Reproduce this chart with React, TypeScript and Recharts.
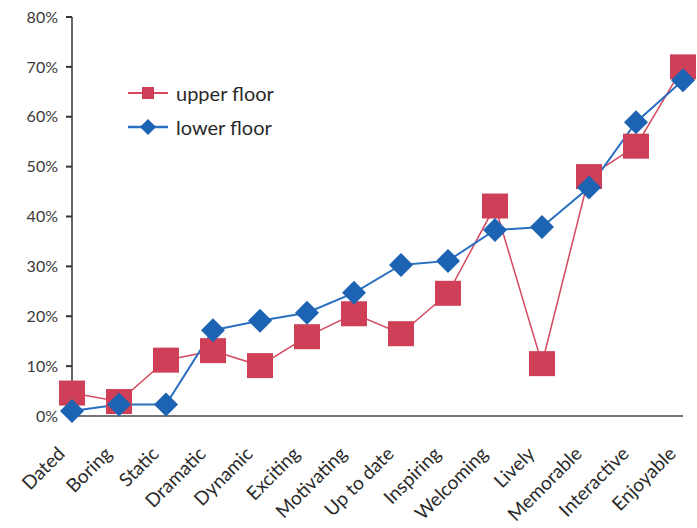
import React from 'react';
import { LineChart, Line, XAxis, YAxis, Legend } from 'recharts';

// Share of respondents choosing each word, per floor (%)
const categories = ['Dated', 'Boring', 'Static', 'Dramatic', 'Dynamic', 'Exciting', 'Motivating', 'Up to date', 'Inspiring', 'Welcoming', 'Lively', 'Memorable', 'Interactive', 'Enjoyable'];
const upperFloor = [4.6, 2.9, 11.2, 13.1, 10.1, 15.9, 20.5, 16.5, 24.6, 42.1, 10.5, 48, 54.1, 70];
const lowerFloor = [1, 2.3, 2.3, 17.2, 19.1, 20.7, 24.7, 30.3, 31.1, 37.3, 37.9, 45.8, 58.9, 67.3];
const yTicks = [0, 10, 20, 30, 40, 50, 60, 70, 80];

const data = categories.map((name, i) => ({ name, upper: upperFloor[i], lower: lowerFloor[i] }));

const RED = '#cf3f58';
const RED_LINE = '#d6485f';
const BLUE = '#1d63b3';
const BLUE_LINE = '#2a6fc0';
const FONT = 'Lato, "Open Sans", sans-serif';

const SquareDot = (props: any) => {
  const { cx, cy, index } = props;
  if (cx == null || cy == null) return null;
  return <rect key={`sq-${index}`} x={cx - 13} y={cy - 12.5} width={26} height={25} fill={RED} />;
};

const DiamondDot = (props: any) => {
  const { cx, cy, index } = props;
  if (cx == null || cy == null) return null;
  const r = 12;
  return (
    <polygon
      key={`dm-${index}`}
      points={`${cx},${cy - r} ${cx + r},${cy} ${cx},${cy + r} ${cx - r},${cy}`}
      fill={BLUE}
    />
  );
};

const XTick = (props: any) => {
  const { x, payload } = props;
  return (
    <text
      transform={`translate(${x - 6},${455}) rotate(-45)`}
      textAnchor="end"
      fontSize={19}
      fontFamily={FONT}
      fill="#2a2a2a"
    >
      {payload.value}
    </text>
  );
};

const LegendContent = () => (
  <div style={{ fontFamily: FONT, fontSize: 20, color: '#2a2a2a' }}>
    <div style={{ display: 'flex', alignItems: 'center', height: 34 }}>
      <svg width={40} height={20}>
        <line x1={0} y1={10} x2={40} y2={10} stroke={RED_LINE} strokeWidth={2} />
        <rect x={14} y={4} width={12} height={12} fill={RED} />
      </svg>
      <span style={{ marginLeft: 8 }}>upper floor</span>
    </div>
    <div style={{ display: 'flex', alignItems: 'center', height: 34 }}>
      <svg width={40} height={20}>
        <line x1={0} y1={10} x2={40} y2={10} stroke={BLUE_LINE} strokeWidth={2.5} />
        <polygon points="20,2 28,10 20,18 12,10" fill={BLUE} />
      </svg>
      <span style={{ marginLeft: 8 }}>lower floor</span>
    </div>
  </div>
);

export default function App() {
  return (
    <div style={{ position: 'absolute', left: 0, top: 0, background: '#fff' }}>
      <style>{`body{margin:0}`}</style>
      <LineChart width={697} height={528} data={data} margin={{ top: 17, right: 14, bottom: 0, left: 0 }}>
        <XAxis
          dataKey="name"
          axisLine={{ stroke: '#444', strokeWidth: 1.5 }}
          tickLine={false}
          tick={<XTick />}
          interval={0}
          height={112}
        />
        <YAxis
          domain={[0, 80]}
          ticks={yTicks}
          width={72}
          tickFormatter={(v: number) => `${v}%`}
          axisLine={{ stroke: '#333', strokeWidth: 1.5 }}
          tickLine={{ stroke: '#333', strokeWidth: 2 }}
          tickSize={6}
          tickMargin={8}
          tick={{ fontSize: 16, fontFamily: FONT, fill: '#3a3a3a' }}
        />
        <Legend
          content={<LegendContent />}
          layout="vertical"
          verticalAlign="middle"
          align="center"
          wrapperStyle={{ left: 128, top: 76, width: 200 }}
        />
        <Line
          dataKey="upper"
          stroke={RED_LINE}
          strokeWidth={1.5}
          dot={<SquareDot />}
          activeDot={false}
          isAnimationActive={false}
        />
        <Line
          dataKey="lower"
          stroke={BLUE_LINE}
          strokeWidth={2}
          dot={<DiamondDot />}
          activeDot={false}
          isAnimationActive={false}
        />
      </LineChart>
    </div>
  );
}
